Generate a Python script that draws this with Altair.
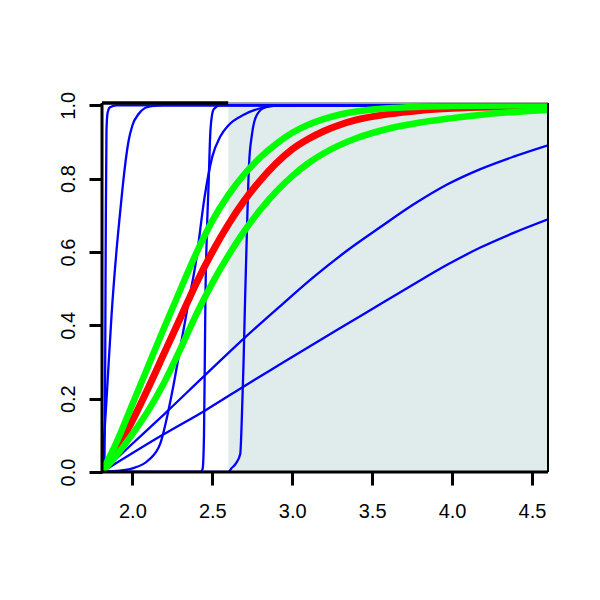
import altair as alt
import pandas as pd

# axis limits and ticks
XLIM = [1.81, 4.60]
YLIM = [0.0, 1.0063]
X_TICKS = [2.0, 2.5, 3.0, 3.5, 4.0, 4.5]
Y_TICKS = [0.0, 0.2, 0.4, 0.6, 0.8, 1.0]
SHADE_FROM = 2.6

# blue curves
A_X = [1.81, 1.822, 1.826, 1.83, 1.834, 1.838, 1.845, 1.86, 1.9, 4.6]
A_Y = [0.0, 0.01, 0.05, 0.3, 0.7, 0.93, 0.98, 0.995, 1.0, 1.0]

B_X = [1.81, 1.84, 1.87, 1.9, 1.925, 1.95, 1.975, 2.0, 2.04, 2.08, 2.12, 2.2, 4.6]
B_Y = [0.0, 0.21, 0.43, 0.6, 0.715, 0.82, 0.9, 0.945, 0.977, 0.993, 0.998, 1.0, 1.0]

C_X = [1.81, 2.43, 2.44, 2.448, 2.453, 2.457, 2.466, 2.477, 2.487, 2.497, 2.51, 2.55, 4.6]
C_Y = [0.0, 0.0, 0.01, 0.1, 0.3, 0.47, 0.65, 0.787, 0.92, 0.97, 0.99, 1.0, 1.0]

D_X = [1.81, 1.9, 2.0, 2.1, 2.175, 2.25, 2.3, 2.35, 2.4, 2.45, 2.5, 2.55, 2.6, 2.7, 2.8, 2.9, 3.0, 4.6]
D_Y = [0.0, 0.003, 0.01, 0.032, 0.078, 0.22, 0.34, 0.46, 0.58, 0.745, 0.86, 0.915, 0.945, 0.975, 0.992, 0.999, 1.0, 1.0]

E_X = [1.81, 2.60, 2.62, 2.65, 2.675, 2.685, 2.695, 2.705, 2.718, 2.73, 2.748, 2.78, 2.83, 2.9, 4.6]
E_Y = [0.0, 0.0, 0.01, 0.025, 0.05, 0.15, 0.29, 0.47, 0.68, 0.84, 0.92, 0.975, 0.994, 0.999, 1.0]

F_X = [1.81, 2.0, 2.2, 2.45, 2.7, 2.929, 3.135, 3.344, 3.552, 3.76, 3.969, 4.177, 4.385, 4.6]
F_Y = [0.0, 0.077, 0.158, 0.262, 0.365, 0.454, 0.532, 0.604, 0.668, 0.73, 0.784, 0.826, 0.86, 0.891]

G_X = [1.81, 2.185, 2.456, 2.74, 2.914, 3.29, 3.552, 3.76, 3.969, 4.177, 4.385, 4.6]
G_Y = [0.0, 0.1, 0.168, 0.245, 0.291, 0.39, 0.458, 0.512, 0.565, 0.612, 0.652, 0.689]

# red curve (estimate) and green band
RED_X = [1.81, 1.9, 2.0, 2.1, 2.2, 2.3, 2.4, 2.5, 2.6, 2.7, 2.8, 2.9, 3.0, 3.1, 3.2, 3.3, 3.4, 3.6, 3.8, 4.0, 4.3, 4.6]
RED_Y = [0.0, 0.06, 0.14, 0.23, 0.325, 0.42, 0.515, 0.6, 0.675, 0.74, 0.795, 0.842, 0.88, 0.908, 0.93, 0.947, 0.96, 0.976, 0.986, 0.992, 0.996, 0.998]

UP_X = [1.81, 1.9, 2.0, 2.1, 2.2, 2.3, 2.4, 2.5, 2.6, 2.7, 2.8, 2.9, 3.0, 3.1, 3.2, 3.3, 3.4, 3.6, 3.8, 4.0, 4.6]
UP_Y = [0.0, 0.08, 0.185, 0.29, 0.395, 0.497, 0.597, 0.685, 0.755, 0.812, 0.858, 0.895, 0.925, 0.947, 0.963, 0.975, 0.983, 0.992, 0.996, 0.998, 1.0]

LO_X = [1.81, 1.9, 2.0, 2.1, 2.2, 2.3, 2.4, 2.5, 2.6, 2.7, 2.8, 2.9, 3.0, 3.1, 3.2, 3.3, 3.4, 3.6, 3.8, 4.0, 4.2, 4.4, 4.6]
LO_Y = [0.0, 0.045, 0.103, 0.168, 0.245, 0.335, 0.43, 0.515, 0.59, 0.657, 0.715, 0.765, 0.807, 0.842, 0.87, 0.892, 0.91, 0.936, 0.953, 0.965, 0.975, 0.982, 0.987]

BLUE = "#0000ff"
RED = "#ff0000"
GREEN = "#00ff00"
SHADE = "#e0ecec"


def long(curves):
    rows = []
    for name, xs, ys in curves:
        for i, (x, y) in enumerate(zip(xs, ys)):
            rows.append({"curve": name, "i": i, "x": x, "y": y})
    return pd.DataFrame(rows)


blue_df = long([("A", A_X, A_Y), ("B", B_X, B_Y), ("C", C_X, C_Y), ("D", D_X, D_Y),
                ("E", E_X, E_Y), ("F", F_X, F_Y), ("G", G_X, G_Y)])
red_df = long([("red", RED_X, RED_Y)])
green_df = long([("up", UP_X, UP_Y), ("lo", LO_X, LO_Y)])

shade_df = pd.DataFrame([{"x": SHADE_FROM, "x2": XLIM[1], "y": YLIM[0], "y2": YLIM[1]}])

frame_df = pd.DataFrame([
    {"x": XLIM[0], "x2": XLIM[0], "y": YLIM[0], "y2": YLIM[1], "w": 3, "c": "black"},
    {"x": XLIM[0], "x2": XLIM[1], "y": YLIM[0], "y2": YLIM[0], "w": 3, "c": "black"},
    {"x": XLIM[1], "x2": XLIM[1], "y": YLIM[0], "y2": YLIM[1], "w": 2, "c": "black"},
    {"x": XLIM[0], "x2": SHADE_FROM, "y": YLIM[1], "y2": YLIM[1], "w": 3.5, "c": "black"},
    {"x": SHADE_FROM, "x2": XLIM[1], "y": YLIM[1], "y2": YLIM[1], "w": 1.2, "c": "#555555"},
])

FONT = "Liberation Sans"

x_axis = alt.Axis(values=X_TICKS, format=".1f", domain=False, grid=False, tickSize=13,
                  tickWidth=3, tickColor="black", labelFont=FONT, labelFontSize=20,
                  labelColor="black", labelPadding=16, labelFlush=False, labelOverlap=False,
                  title=None)
y_axis = alt.Axis(values=Y_TICKS, format=".1f", domain=False, grid=False, tickSize=13,
                  tickWidth=3, tickColor="black", labelFont=FONT, labelFontSize=20,
                  labelColor="black", labelPadding=15, labelFlush=False, labelOverlap=False,
                  labelAngle=270, labelAlign="center", labelBaseline="alphabetic",
                  title=None)

xs = alt.Scale(domain=XLIM, nice=False, zero=False)
ys = alt.Scale(domain=YLIM, nice=False, zero=False)

X = alt.X("x:Q", scale=xs, axis=x_axis)
Y = alt.Y("y:Q", scale=ys, axis=y_axis)

shade = alt.Chart(shade_df).mark_rect(fill=SHADE, clip=True).encode(
    x=X, x2="x2:Q", y=Y, y2="y2:Q")

blue = alt.Chart(blue_df).mark_line(color=BLUE, strokeWidth=2.3, interpolate="monotone",
                                    clip=True).encode(x=X, y=Y, detail="curve:N", order="i:Q")
red = alt.Chart(red_df).mark_line(color=RED, strokeWidth=7, interpolate="monotone",
                                  clip=True).encode(x=X, y=Y, detail="curve:N", order="i:Q")
green = alt.Chart(green_df).mark_line(color=GREEN, strokeWidth=6.5, interpolate="monotone",
                                      clip=True).encode(x=X, y=Y, detail="curve:N", order="i:Q")

frame = alt.Chart(frame_df).mark_rule(clip=False).encode(
    x=X, x2="x2:Q", y=Y, y2="y2:Q",
    strokeWidth=alt.StrokeWidth("w:Q", scale=None, legend=None),
    color=alt.Color("c:N", scale=None, legend=None))

chart = alt.layer(shade, blue, red, green, frame).properties(
    width=446, height=369,
    padding={"left": 94, "top": 95, "right": 40, "bottom": 110},
    autosize=alt.AutoSizeParams(type="none"),
    background="white",
).configure_view(stroke=None)

chart.save("out.html", embed_options={"renderer": "svg", "actions": False})
